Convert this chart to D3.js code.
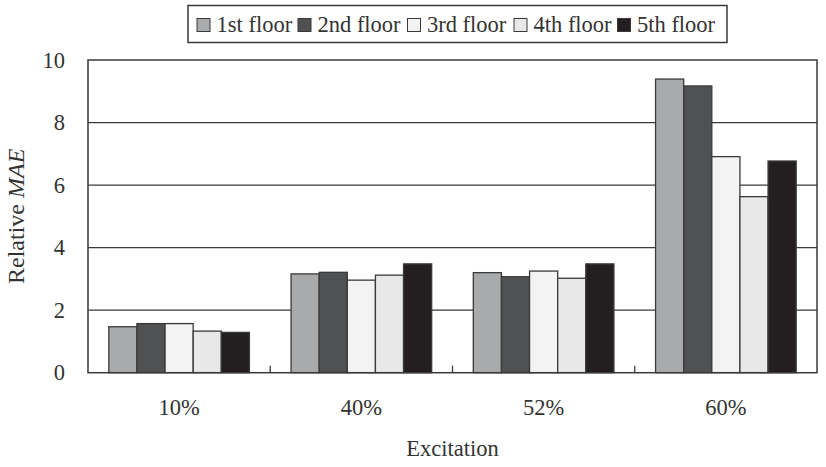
<!DOCTYPE html>
<html><head><meta charset="utf-8">
<script src="https://cdn.jsdelivr.net/npm/d3@7/dist/d3.min.js"></script>
<style>body{margin:0;background:#fff}svg{display:block}text{font-family:"Liberation Serif","Times New Roman",serif;fill:#333}</style>
</head><body><svg id="c" width="826" height="467"></svg>
<script>
const categories = ["10%", "40%", "52%", "60%"];
const seriesNames = ["1st floor", "2nd floor", "3rd floor", "4th floor", "5th floor"];
const floor1 = [1.47, 3.16, 3.20, 9.39];
const floor2 = [1.57, 3.21, 3.07, 9.17];
const floor3 = [1.57, 2.96, 3.25, 6.91];
const floor4 = [1.33, 3.12, 3.02, 5.63];
const floor5 = [1.29, 3.48, 3.48, 6.77];
const yTicks = [0, 2, 4, 6, 8, 10];
const colors = ["#a9aaab", "#505153", "#f3f3f3", "#e8e8e8", "#231f20"];

const series = [floor1, floor2, floor3, floor4, floor5];
const svg = d3.select("#c");
const FS = 22.5;
const m = {l: 88, r: 817, t: 60, b: 372.7};
const x0 = d3.scaleBand().domain(categories).range([m.l, m.r]).paddingInner(0).paddingOuter(0);
const x1 = d3.scaleBand().domain(seriesNames).range([0, x0.bandwidth()]).paddingOuter(0.74).paddingInner(0);
const y = d3.scaleLinear().domain([0, 10]).range([m.b, m.t]);

// gridlines
svg.append("g").selectAll("line").data(yTicks.filter(t => t > 0 && t < 10)).join("line")
  .attr("x1", m.l).attr("x2", m.r).attr("y1", d => y(d)).attr("y2", d => y(d))
  .attr("stroke", "#3a3a3a").attr("stroke-width", 1.3);

// bars
const g = svg.append("g");
categories.forEach((c, ci) => {
  series.forEach((s, si) => {
    g.append("rect")
      .attr("x", x0(c) + x1(seriesNames[si]))
      .attr("y", y(s[ci]))
      .attr("width", x1.bandwidth())
      .attr("height", y(0) - y(s[ci]))
      .attr("fill", colors[si])
      .attr("stroke", "#3a3a3a").attr("stroke-width", 1.3);
  });
});

// frame
svg.append("rect").attr("x", m.l).attr("y", m.t).attr("width", m.r - m.l).attr("height", m.b - m.t)
  .attr("fill", "none").attr("stroke", "#3a3a3a").attr("stroke-width", 1.5);

// y axis
const yAxis = d3.axisLeft(y).tickValues(yTicks).tickSize(0).tickPadding(23).tickFormat(d3.format("d"));
const ya = svg.append("g").attr("transform", `translate(${m.l},0)`).call(yAxis);
ya.select(".domain").remove();
ya.selectAll("text").attr("font-size", FS).style("font-family", "Liberation Serif").attr("fill", "#333");

// x axis
const xAxis = d3.axisBottom(x0).tickSize(0).tickPadding(26);
const xa = svg.append("g").attr("transform", `translate(0,${m.b})`).call(xAxis);
xa.select(".domain").remove();
xa.selectAll("text").attr("font-size", FS).style("font-family", "Liberation Serif").attr("fill", "#333");
// category separator ticks
svg.append("g").selectAll("line").data(categories.slice(1)).join("line")
  .attr("x1", d => x0(d)).attr("x2", d => x0(d)).attr("y1", m.b).attr("y2", m.b - 7)
  .attr("stroke", "#3a3a3a").attr("stroke-width", 1.3);

// axis titles
svg.append("text").attr("x", (m.l + m.r) / 2).attr("y", 456).attr("text-anchor", "middle")
  .attr("font-size", FS).text("Excitation");
const yt = svg.append("text").attr("transform", `translate(24,${(m.t + m.b) / 2}) rotate(-90)`)
  .attr("text-anchor", "middle").attr("font-size", 24);
yt.append("tspan").text("Relative ");
yt.append("tspan").attr("font-style", "italic").text("MAE");

// legend
svg.append("rect").attr("x", 188).attr("y", 5.5).attr("width", 539).attr("height", 37)
  .attr("fill", "#fff").attr("stroke", "#3a3a3a").attr("stroke-width", 1.5);
const legX = [196.5, 297.5, 407, 513.5, 617];
const lg = svg.append("g").selectAll("g").data(seriesNames).join("g")
  .attr("transform", (d, i) => `translate(${legX[i]},0)`);
lg.append("rect").attr("x", 0.5).attr("y", 18.5).attr("width", 13).attr("height", 13)
  .attr("fill", (d, i) => colors[i]).attr("stroke", "#3a3a3a").attr("stroke-width", 1);
lg.append("text").attr("x", 20).attr("y", 32).attr("font-size", FS).text(d => d);
</script></body></html>
